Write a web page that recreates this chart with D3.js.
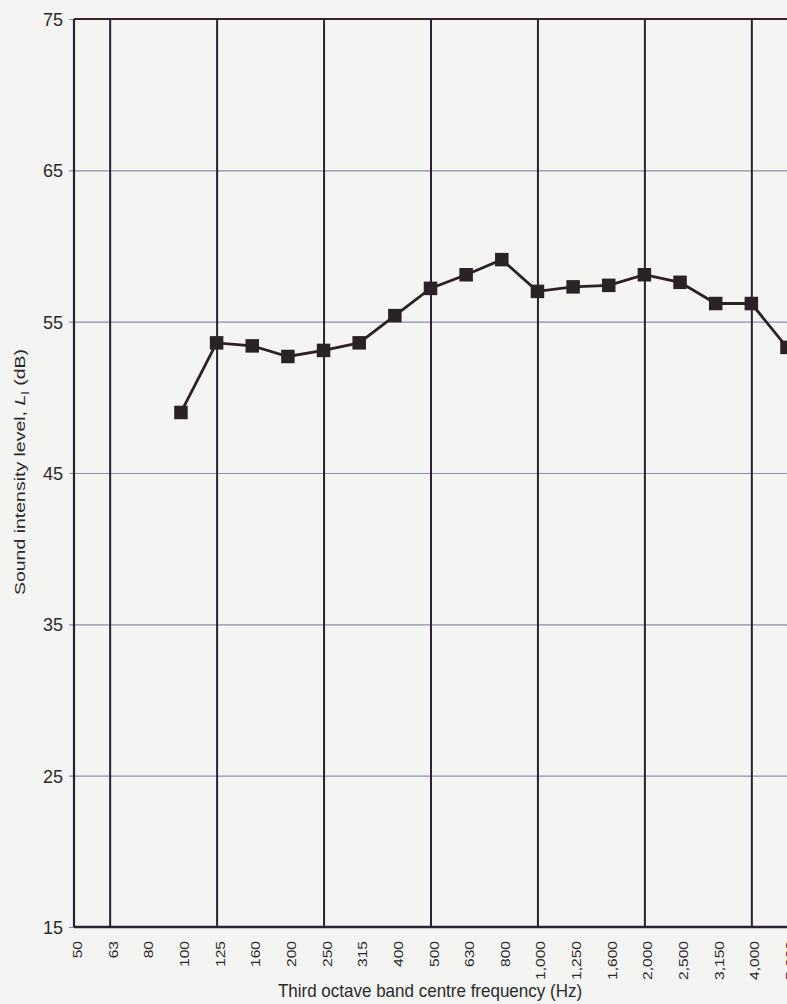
<!DOCTYPE html>
<html>
<head>
<meta charset="utf-8">
<script src="https://cdn.jsdelivr.net/npm/d3@7"></script>
<style>
  html, body { margin: 0; padding: 0; background: #f4f4f2; }
  svg { display: block; font-family: "Liberation Sans", Arial, sans-serif; }
</style>
</head>
<body>
<svg id="chart" width="787" height="1004"></svg>
<script>
// Third-octave band centre frequencies (Hz)
const bands = ["50", "63", "80", "100", "125", "160", "200", "250", "315", "400", "500",
               "630", "800", "1,000", "1,250", "1,600", "2,000", "2,500", "3,150", "4,000", "5,000"];
// Octave band centres get the heavy vertical rules
const octaveBands = ["63", "125", "250", "500", "1,000", "2,000", "4,000"];
// Measured sound intensity level per band (dB); bands below 100 Hz not measured
const measuredBands = ["100", "125", "160", "200", "250", "315", "400", "500", "630", "800",
                       "1,000", "1,250", "1,600", "2,000", "2,500", "3,150", "4,000", "5,000"];
const intensityLevel = [49.0, 53.6, 53.4, 52.7, 53.1, 53.6, 55.4, 57.2, 58.1, 59.1,
                        57.0, 57.3, 57.4, 58.1, 57.6, 56.2, 56.2, 53.3];
const yTicks = [15, 25, 35, 45, 55, 65, 75];

const svg = d3.select("#chart");
const plotLeft = 74, plotRight = 787, plotTop = 19, plotBottom = 927;

const x = d3.scalePoint().domain(bands).range([plotLeft, plotRight]);
const y = d3.scaleLinear().domain([15, 75]).range([plotBottom, plotTop]);

// Horizontal grid lines with short outward ticks
const gy = svg.append("g")
  .attr("transform", `translate(${plotLeft},0)`)
  .call(d3.axisLeft(y).tickValues(yTicks).tickSize(5).tickSizeOuter(0).tickPadding(0));
gy.select(".domain").remove();
gy.selectAll(".tick line")
  .attr("x1", -5)
  .attr("x2", plotRight - plotLeft)
  .attr("stroke", "#8c8ea6")
  .attr("stroke-width", 1.2);
gy.selectAll(".tick text")
  .attr("x", -11)
  .attr("dy", "0.36em")
  .attr("fill", "#2a2a2a")
  .style("font-size", "18px")
  .style("font-family", "'Liberation Sans', Arial, sans-serif");

// Octave rules
const gx = svg.append("g")
  .attr("transform", `translate(0,${plotBottom})`)
  .call(d3.axisBottom(x).tickValues(octaveBands).tickSize(-(plotBottom - plotTop)).tickFormat(""));
gx.select(".domain").remove();
gx.selectAll(".tick line").attr("stroke", "#2a2230").attr("stroke-width", 2);

// Band labels, rotated and drawn tall-and-narrow
const gl = svg.append("g")
  .attr("transform", `translate(0,${plotBottom})`)
  .call(d3.axisBottom(x).tickSize(0).tickPadding(0));
gl.select(".domain").remove();
gl.selectAll(".tick text")
  .attr("transform", "translate(3,14) rotate(-90) scale(1.25,1)")
  .attr("x", 0).attr("y", 0).attr("dy", "0.36em")
  .attr("text-anchor", "end")
  .attr("fill", "#2a2a2a")
  .style("font-size", "12.5px")
  .style("font-family", "'Liberation Sans', Arial, sans-serif");

// Frame: top, left, bottom
svg.append("line").attr("x1", plotLeft).attr("x2", plotRight).attr("y1", y(75)).attr("y2", y(75))
  .attr("stroke", "#3a2226").attr("stroke-width", 2.2);
svg.append("line").attr("x1", plotLeft).attr("x2", plotLeft).attr("y1", plotTop).attr("y2", plotBottom)
  .attr("stroke", "#2a2230").attr("stroke-width", 2.2);
svg.append("line").attr("x1", plotLeft).attr("x2", plotRight).attr("y1", y(15)).attr("y2", y(15))
  .attr("stroke", "#2a2230").attr("stroke-width", 2.6);

// Measured series
const series = measuredBands.map((b, i) => ({ band: b, level: intensityLevel[i] }));
svg.append("path")
  .datum(series)
  .attr("fill", "none")
  .attr("stroke", "#2a2026")
  .attr("stroke-width", 2.8)
  .attr("d", d3.line().x(d => x(d.band)).y(d => y(d.level)));

const m = 13.5;
svg.append("g").selectAll("rect")
  .data(series)
  .join("rect")
  .attr("x", d => x(d.band) - m / 2)
  .attr("y", d => y(d.level) - m / 2)
  .attr("width", m)
  .attr("height", m)
  .attr("fill", "#2a2226");

// Axis titles
svg.append("text")
  .attr("transform", "translate(430,997) scale(1,1.08)")
  .attr("text-anchor", "middle")
  .attr("fill", "#2a2a2a")
  .style("font-size", "17px")
  .text("Third octave band centre frequency (Hz)");

const yt = svg.append("text")
  .attr("transform", "translate(25,472) rotate(-90) scale(1.3,1)")
  .attr("text-anchor", "middle")
  .attr("fill", "#2a2a2a")
  .style("font-size", "15px");
yt.append("tspan").text("Sound intensity level, ");
yt.append("tspan").attr("font-style", "italic").text("L");
yt.append("tspan").attr("dy", 4).style("font-size", "10px").text("I");
yt.append("tspan").attr("dy", -4).text(" (dB)");
</script>
</body>
</html>
